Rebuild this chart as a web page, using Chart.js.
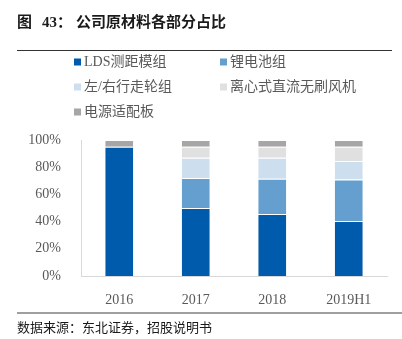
<!DOCTYPE html>
<html>
<head>
<meta charset="utf-8">
<script src="https://cdn.jsdelivr.net/npm/chart.js@4/dist/chart.umd.min.js"></script>
<style>
  html, body { margin: 0; padding: 0; background: #fff; }
  #wrap { position: relative; width: 402px; height: 339px; }
</style>
</head>
<body>
<div id="wrap"><canvas id="grafico" width="402" height="339"></canvas></div>
<script>
// dados
const anos = ['2016', '2017', '2018', '2019H1'];
const series = ['LDS测距模组', '锂电池组', '左/右行走轮组', '离心式直流无刷风机', '电源适配板'];
const lds = [95, 50, 45.5, 40.5];
const bateria = [0, 22, 26, 30.5];
const rodas = [0, 15, 15.5, 13.5];
const ventilador = [0, 8, 8, 10.5];
const adaptador = [5, 5, 5, 5];
const ticksY = ['0%', '20%', '40%', '60%', '80%', '100%'];
const cores = ['#005BAC', '#659FCF', '#CDDEEE', '#E0E0E0', '#A6A6A6'];

const CJK = "'Noto Sans CJK SC'";
const SERIF = "'Liberation Serif', 'Times New Roman', " + CJK;

// titulo, linhas, legenda e fonte desenhados por fora do grafico
const moldura = {
    id: 'moldura',
    afterDraw(chart) {
        const ctx = chart.ctx;
        ctx.save();
        ctx.textBaseline = 'middle';
        ctx.textAlign = 'left';
        ctx.fillStyle = '#1a1a1a';
        ctx.font = 'bold 15px ' + SERIF;
        ctx.fillText('图', 17, 23);
        ctx.fillText('43：', 42, 23);
        ctx.fillText('公司原材料各部分占比', 76, 23);

        ctx.strokeStyle = '#333';
        ctx.lineWidth = 1;
        ctx.beginPath();
        ctx.moveTo(17, 50.5); ctx.lineTo(392, 50.5);
        ctx.stroke();

        ctx.strokeStyle = '#7f7f7f';
        ctx.lineWidth = 1.5;
        ctx.beginPath();
        ctx.moveTo(17, 313); ctx.lineTo(402, 313);
        ctx.stroke();

        ctx.fillStyle = '#1a1a1a';
        ctx.font = '13px ' + CJK;
        ctx.fillText('数据来源：东北证券，招股说明书', 17, 327);

        // legenda em duas colunas
        const pos = [[74, 62], [220, 62], [74, 87], [220, 87], [74, 112]];
        ctx.font = '14px ' + SERIF;
        series.forEach((nome, i) => {
            const [x, y] = pos[i];
            ctx.fillStyle = cores[i];
            ctx.fillRect(x, y - 3.5, 7, 7);
            ctx.fillStyle = '#595959';
            ctx.fillText(nome, x + 10, y);
        });
        ctx.restore();
    }
};

function montar_datasets() {
    const valores = [lds, bateria, rodas, ventilador, adaptador];
    return series.map((nome, i) => ({
        label: nome,
        data: valores[i],
        backgroundColor: cores[i],
        borderColor: 'rgba(255,255,255,0.6)',
        borderWidth: { top: 1, left: 0, right: 0, bottom: 0 },
        borderSkipped: false,
        categoryPercentage: 1,
        barPercentage: 0.366
    }));
}

document.addEventListener('DOMContentLoaded', function () {
    const ctx = document.getElementById('grafico').getContext('2d');
    new Chart(ctx, {
        type: 'bar',
        data: { labels: anos, datasets: montar_datasets() },
        options: {
            responsive: false,
            animation: false,
            layout: { padding: { left: 0, top: 140, right: 15, bottom: 33 } },
            plugins: { legend: { display: false }, tooltip: { enabled: false } },
            scales: {
                x: {
                    stacked: true,
                    grid: { display: false },
                    border: { color: '#d9d9d9' },
                    ticks: { color: '#595959', font: { family: SERIF, size: 14 }, padding: 8 },
                    afterFit(scale) { scale.height = 30; }
                },
                y: {
                    stacked: true,
                    min: 0, max: 100,
                    grid: { display: false },
                    border: { color: '#d9d9d9' },
                    ticks: {
                        stepSize: 20,
                        color: '#595959',
                        font: { family: SERIF, size: 14 },
                        padding: 12,
                        callback: (v) => ticksY[v / 20]
                    },
                    afterFit(scale) { scale.width = 81; }
                }
            }
        },
        plugins: [moldura]
    });
});
</script>
</body>
</html>
